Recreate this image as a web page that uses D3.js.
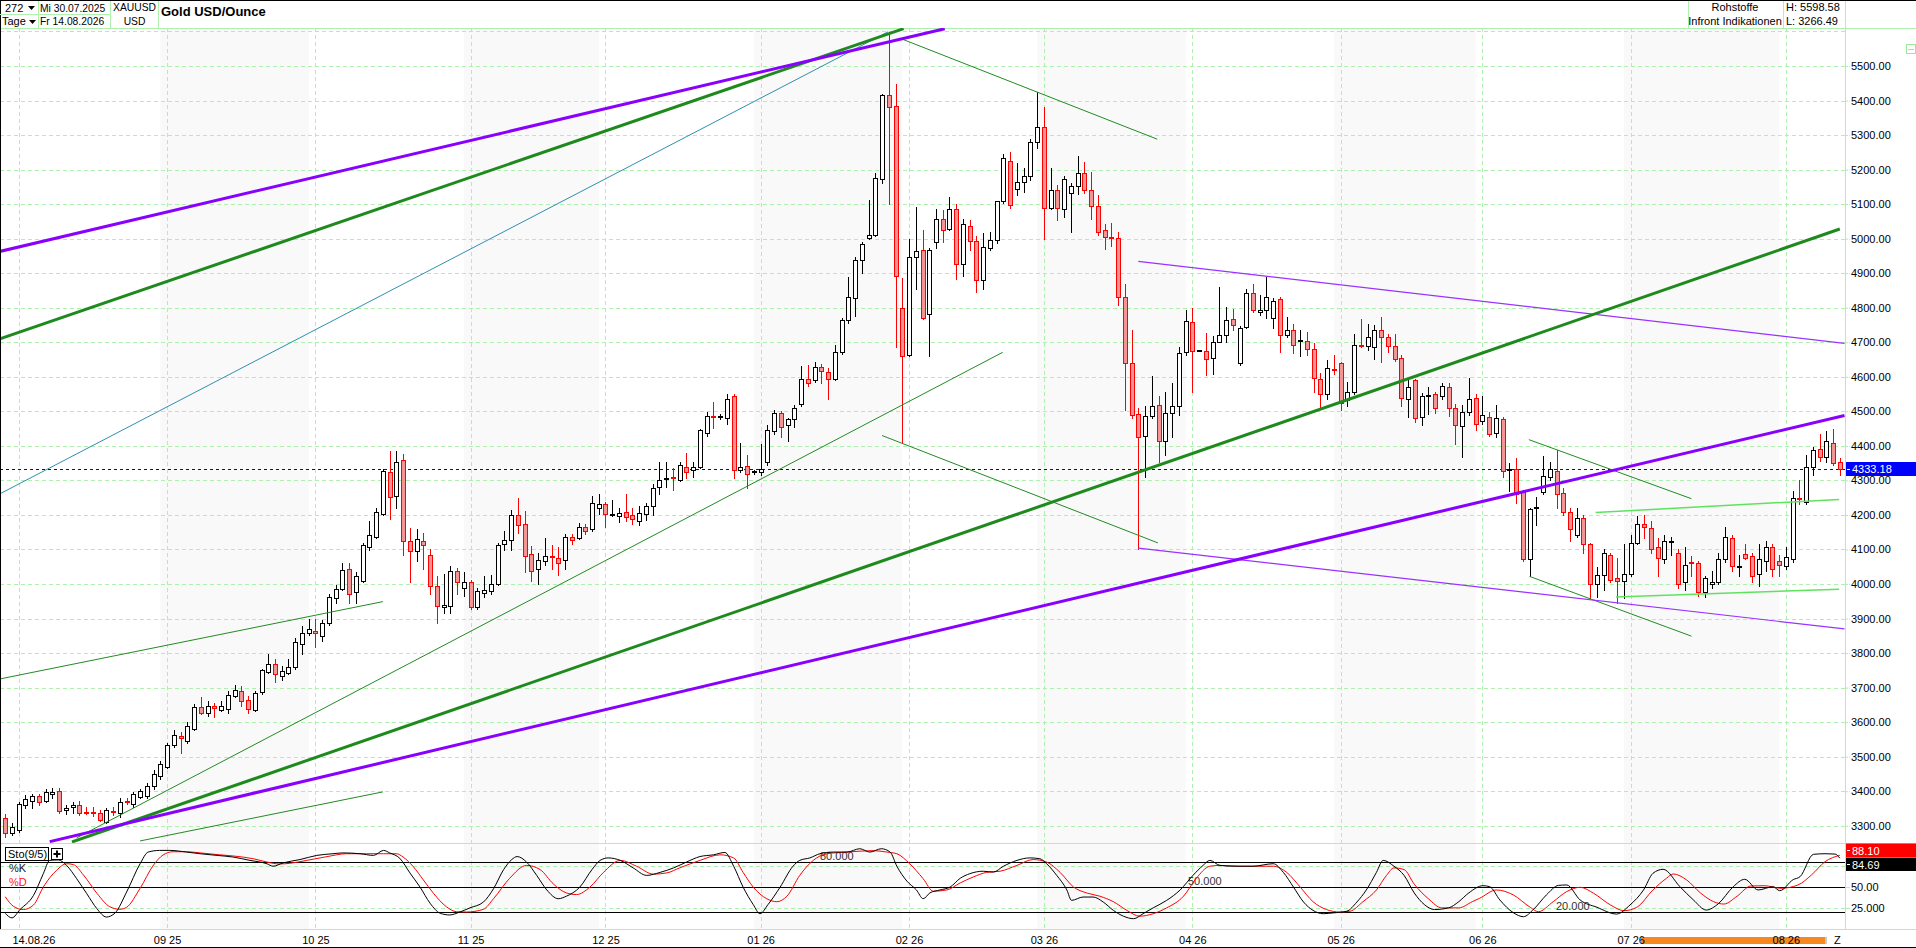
<!DOCTYPE html>
<html>
<head>
<meta charset="utf-8">
<script src="https://cdn.jsdelivr.net/npm/d3@7"></script>
<style>
  body { margin: 0; background: #fff; }
  svg { display: block; }
  text { font-family: "Liberation Sans", Arial, sans-serif; font-size: 11px; fill: #000; }
</style>
</head>
<body>
<svg id="chart"></svg>
<script>
// ---- data (bar index = trading day 0..272) ----
var opens = [3322,3279,3287,3360,3371,3385,3371,3393,3402,3345,3355,3359,3341,3341,3336,3312,3343,3336,3372,3364,
3384,3387,3414,3444,3470,3534,3561,3546,3580,3643,3626,3646,3636,3639,3677,3690,3664,3636,3687,3744,
3767,3735,3743,3759,3826,3857,3864,3848,3886,3959,3985,4044,3976,4010,4107,4137,4204,4324,4255,4358,
4124,4095,4124,4085,3993,3932,3937,4039,3988,4005,3932,3974,3979,4000,4115,4127,4200,4175,4086,4044,
4068,4080,4076,4069,4136,4132,4166,4158,4221,4231,4199,4198,4209,4200,4183,4204,4226,4282,4303,4311,
4302,4340,4331,4340,4438,4486,4484,4481,4543,4331,4341,4324,4324,4353,4443,4494,4460,4477,4520,4595,
4591,4628,4613,4594,4671,4764,4829,4939,5002,5012,5172,5415,5384,4798,4664,4948,4968,4783,4990,5058,
5028,5087,4927,5036,4994,4880,4973,4995,5108,5226,5143,5165,5182,5279,5322,5089,5140,5087,5131,5152,
5189,5140,5096,5024,5004,5001,4832,4639,4492,4430,4486,4518,4413,4494,4515,4671,4758,4676,4676,4654,
4702,4722,4766,4639,4744,4843,4789,4792,4770,4824,4722,4736,4705,4705,4681,4594,4549,4622,4639,4532,
4557,4693,4688,4686,4736,4715,4688,4654,4537,4591,4484,4543,4549,4545,4571,4509,4457,4498,4540,4472,
4484,4438,4477,4331,4333,4268,4073,4219,4265,4311,4328,4263,4209,4141,4192,4115,4000,4027,4085,4017,
4008,4030,4119,4175,4161,4107,4073,4122,4090,4005,4064,4061,3976,4001,4005,4073,4132,4049,4086,4081,
4030,4068,4107,4066,4051,4073,4248,4238,4340,4391,4367,4409,4353];
var highs = [3334,3308,3368,3388,3393,3393,3405,3410,3409,3360,3370,3372,3353,3353,3347,3350,3355,3380,3380,3398,
3405,3425,3461,3487,3541,3578,3572,3600,3652,3674,3660,3656,3660,3691,3708,3704,3677,3691,3754,3796,
3784,3762,3784,3843,3877,3898,3898,3895,3971,3996,4061,4061,4034,4119,4183,4221,4333,4384,4384,4377,
4163,4158,4149,4102,4022,4030,4051,4047,4034,4013,3988,4022,4027,4119,4153,4214,4248,4212,4110,4090,
4132,4112,4107,4146,4146,4178,4175,4255,4260,4238,4243,4221,4260,4221,4226,4234,4289,4353,4353,4336,
4353,4379,4353,4450,4498,4526,4491,4549,4549,4408,4374,4330,4404,4459,4503,4501,4481,4518,4630,4634,
4642,4637,4625,4693,4771,4888,4948,4990,5113,5189,5420,5598.58,5449,4885,4999,5092,5024,4973,5087,5084,
5121,5100,5058,5053,5007,5016,5019,5110,5245,5250,5220,5206,5288,5424,5381,5206,5155,5182,5160,5240,
5223,5193,5126,5041,5046,5019,4868,4736,4509,4515,4603,4543,4557,4583,4685,4792,4800,4679,4727,4719,
4860,4803,4795,4747,4854,4868,4837,4888,4829,4832,4773,4752,4735,4730,4698,4611,4650,4664,4642,4586,
4724,4766,4752,4749,4773,4724,4724,4664,4591,4594,4554,4571,4557,4583,4583,4520,4518,4596,4549,4543,
4498,4518,4484,4350,4365,4273,4221,4251,4370,4353,4387,4277,4221,4221,4200,4119,4049,4102,4090,4076,
4115,4141,4197,4200,4183,4132,4141,4136,4102,4107,4081,4068,4022,4039,4090,4166,4141,4085,4115,4090,
4115,4124,4115,4085,4107,4268,4302,4374,4396,4435,4442,4450,4365];
var lows = [3266,3274,3283,3351,3351,3359,3368,3380,3337,3334,3337,3330,3334,3329,3313,3307,3330,3325,3364,3355,
3379,3381,3407,3436,3466,3527,3512,3541,3577,3623,3619,3614,3631,3626,3674,3648,3626,3631,3682,3742,
3716,3721,3738,3755,3796,3852,3818,3835,3881,3945,3983,3945,3945,4005,4098,4132,4200,4187,4221,4085,
4005,4068,4044,3971,3886,3915,3915,3971,3966,3928,3928,3962,3971,3996,4098,4098,4149,4034,4010,4000,
4056,4044,4027,4044,4115,4129,4146,4154,4204,4166,4197,4180,4183,4175,4170,4185,4200,4260,4282,4273,
4299,4307,4311,4336,4430,4452,4477,4464,4306,4324,4277,4319,4316,4345,4433,4426,4413,4455,4515,4574,
4586,4583,4537,4591,4666,4756,4775,4900,4999,5007,5160,5101,4685,4408,4659,4854,4766,4659,4973,4990,
5024,4883,4892,4968,4846,4854,4968,4987,5104,5090,5126,5135,5169,5262,4999,5085,5053,5063,5019,5130,
5132,5058,5012,4970,4978,4807,4503,4481,4102,4311,4481,4353,4374,4425,4489,4664,4557,4674,4605,4608,
4700,4700,4735,4634,4741,4787,4778,4770,4741,4671,4715,4668,4659,4664,4557,4506,4537,4608,4503,4515,
4549,4685,4679,4651,4642,4673,4646,4515,4484,4469,4459,4493,4494,4537,4486,4404,4367,4489,4447,4464,
4430,4426,4311,4268,4234,4068,4022,4170,4260,4302,4221,4200,4124,4136,4090,3959,3962,3983,4005,3945,
3959,4022,4117,4132,4090,4022,4061,4085,3988,3983,4022,3966,3962,3988,4000,4064,4039,4022,4073,4005,
3993,4039,4022,4022,4044,4064,4232,4232,4316,4357,4353,4345,4316];
var closes = [3278,3296,3363,3376,3385,3368,3398,3398,3342,3350,3359,3337,3337,3336,3316,3347,3340,3370,3368,3393,
3402,3414,3449,3478,3534,3563,3553,3588,3643,3626,3646,3640,3648,3679,3694,3662,3639,3685,3750,3767,
3738,3748,3760,3833,3857,3869,3857,3887,3962,3985,4040,3971,4022,4112,4141,4209,4328,4251,4353,4124,
4095,4129,4112,3993,3937,3940,4039,4005,4005,3932,3980,3983,4000,4112,4127,4200,4170,4081,4039,4069,
4082,4078,4061,4136,4127,4166,4154,4234,4231,4204,4202,4207,4195,4187,4207,4226,4277,4302,4306,4306,
4345,4323,4340,4445,4486,4484,4486,4537,4331,4340,4319,4326,4333,4447,4494,4455,4477,4509,4595,4583,
4628,4617,4594,4673,4764,4832,4939,4985,5012,5177,5415,5381,4892,4659,4948,4965,4770,4968,5058,5024,
5087,4927,5041,4994,4880,4977,4995,5108,5233,5097,5165,5182,5279,5322,5089,5140,5089,5172,5152,5189,
5140,5096,5019,5004,5001,4832,4639,4489,4426,4486,4515,4413,4494,4515,4668,4761,4676,4678,4651,4702,
4722,4764,4749,4741,4843,4792,4792,4832,4820,4722,4736,4693,4707,4681,4596,4549,4625,4620,4523,4557,
4693,4691,4715,4736,4715,4688,4651,4540,4569,4481,4545,4546,4509,4574,4509,4459,4498,4537,4464,4489,
4433,4481,4328,4333,4260,4073,4217,4222,4314,4333,4260,4209,4158,4192,4115,4000,4027,4090,4013,4008,
4030,4119,4175,4165,4102,4076,4124,4124,4000,4056,4061,3976,4017,4005,4073,4136,4051,4051,4076,4022,
4073,4107,4044,4056,4078,4248,4246,4340,4387,4367,4413,4350,4333.18];

// month starts (bar index) and the labels under them
var monthBars = [2,24,46,69,89,112,134,154,176,198,219,241,264];
var monthLabels = ["14.08.26","09 25","10 25","11 25","12 25","01 26","02 26","03 26","04 26","05 26","06 26","07 26","08 26"];
var priceTicks = d3.range(3300, 5501, 100);
var lastPrice = 4333.18;

// Sto(9/5): [bar, value]
var stoK = [[0,18.5],[1,13],[2.2,23],[4.2,40],[5.65,66],[6.6,82],[7.9,82.5],[9.1,76],[10.6,60],[12.1,42],[13.6,24],[15,14],
[16.3,19],[18,44],[20,78],[21.2,92],[22.9,94],[24.4,94],[26.9,92],[28.9,90],[31.4,88],[33.8,86],[36.3,82],[38.8,78],[39.7,75],
[41.2,79],[43.7,83],[46.2,88],[48.6,90],[50.1,91],[52.6,90],[54.6,88],[56.1,94],[57,91],[58.5,84.5],[60,67],[61.5,50],
[63,30.5],[64.5,18.5],[65.9,16.5],[67.4,20],[68.9,25],[70.9,32],[72.4,48],[73.9,71],[75.1,83],[75.9,86.6],[77.3,80],
[78.8,64],[80.3,46.5],[82,36],[83.2,39],[85.2,50],[87,71],[88.2,82],[89.4,85],[91.2,82],[93.1,73],[95.1,64],[97.1,67.6],
[99.1,73],[101,80],[103,86.6],[105,88.7],[106.7,91.5],[108,75],[109.4,50],[110.9,29],[111.9,18],[113.1,29],[114.9,50],
[116.8,75],[117.8,82],[119.3,85],[120.8,90],[122.8,92],[124.8,92],[126.7,96],[128.2,92],[129.9,96],[131.2,92],[132.2,75],
[133.7,57],[135.1,46.5],[136.1,36],[137.1,43],[138.6,46.5],[140.1,50],[141.6,60.6],[143,66],[145,69],[146.5,68],[148,75],
[150,82],[151.9,85],[153.4,84],[154.4,78],[155.9,64],[157.4,46.5],[158.1,34],[159.8,38],[161.3,38],[162.8,32],[164.3,22],
[165.8,15],[167.3,12],[168.7,18],[170.2,25],[172.2,34],[174.2,46.5],[176.1,64],[177.6,76],[178.6,82],[180.1,76],[182.1,75],
[185,75],[188,78],[189.5,67.6],[191,50],[192.5,32],[193.9,22],[195.4,18],[196.9,19],[198.9,21],[200.4,32],[201.8,46.5],
[203.3,67.6],[204.3,82],[205.9,75],[207.4,64],[208.9,43],[210.4,29],[211.9,23],[214,25],[215.5,32.4],[217,43],[219.1,51.6],
[220.1,50.4],[221.6,34.5],[223.6,19.2],[225.1,14.4],[226.6,23.3],[228.5,40.5],[230.3,52],[231.5,52.5],[233.5,34.5],[236,25.7],
[238.9,17.6],[240.9,28.5],[242.9,46.5],[244.3,66.5],[245.8,71.3],[248.3,50.4],[250.3,34.5],[252.2,22.4],[254,30],[256.2,50.4],
[257.9,59.3],[259.9,46.5],[262.1,50.4],[263.1,45.6],[265.1,59],[266.1,62.4],[268.1,89.3],[269.8,90],[271.3,89.6],[272,84.69]];
var stoD = [[0,38.4],[1.2,27],[2.7,23],[4.2,28.5],[5.65,50],[7.6,70],[9.1,78],[10.1,77],[11.6,64.5],[13.6,42.5],[15.5,26.4],
[17,23.3],[18,25.7],[20,48.5],[22,76.5],[23.4,88.5],[24.9,92.4],[26.9,92.4],[28.9,91],[31.4,89],[33.8,87.3],[36.8,84],
[38.8,80],[40.7,77.7],[42.2,78.5],[44.7,82],[47.7,86.5],[50.6,90],[53.6,90],[56.1,90],[58,90],[59,86],[60.5,74.5],[62,58.5],
[63.5,42.5],[65.4,26.4],[66.9,20.4],[68.4,20],[70.9,23.3],[72.4,36],[74.8,60.6],[77.3,76],[79.3,71],[81.3,53.5],[83.2,43],
[84.7,41],[86.7,50],[88.7,67.6],[91.2,82],[93.6,75],[96.1,65.5],[98.1,67],[100,73],[103,82],[106,88.7],[108,85],[109.4,67.6],
[110.9,50],[112.9,36],[114.4,32.4],[115.9,39],[117.8,64],[119.8,82],[121.8,90],[124.8,92],[128.7,93.7],[130.7,92],[132.2,90],
[134.1,78],[136.1,60],[137.6,45],[139.6,46.5],[141.6,55],[143.5,62],[145.5,67.6],[147.5,69],[150,76],[152.4,83],[154.4,80],
[156.4,67.6],[158.4,50],[160.3,43],[162.3,39],[164.3,32.4],[166.3,22],[168.2,15],[170.2,18],[172.2,25],[174.7,39],[176.6,60.6],
[178.6,75],[180.1,76],[183.1,75],[188,75],[190,67.6],[192,50],[193.9,32.4],[195.9,23],[197.9,20],[199.4,21],[201.3,32.4],
[203.3,46.5],[204.8,64],[205.9,73],[207.4,71],[208.9,53.5],[211,36],[213,25],[215.5,25],[217.5,32.4],[218.6,36.5],[221.1,46.5],
[223.6,40.5],[226.1,25.7],[227.3,20.4],[229.5,32.4],[231.5,44.5],[233.5,49.7],[235.5,42.5],[238,28.5],[240,21.6],[241.9,25.7],
[244.3,46.5],[246.3,60.5],[247.3,65.7],[249.3,58.5],[251.3,43.2],[253.3,32.4],[254.8,29.6],[256.8,39.2],[258.8,51.2],
[260.8,51.6],[263.3,48.5],[265.8,52.5],[267.8,64.5],[269.8,80.4],[272,88.1]];
var stoLevels = [80, 50, 20];
var stoLevelLabels = ["80.000", "50.000", "20.000"];

// drawn trendlines: [bar1, price1, bar2, price2]
var thickPurple = [[-0.8,4963,139.3,5608],[6.6,3254,272.7,4488]];
var thickGreen = [[-0.8,4710,133.2,5608],[9.9,3253,272,5028]];
var thinGreen = [[-0.8,3725,56,3949],[20,3256,56,3398],[10.6,3265,147.9,4671],[132.7,5580,170.8,5288],
                 [130,4430,170.9,4119],[225.9,4418,250,4247],[226,4022,250,3849]];
var thinPurple = [[168,4934,272.7,4697],[168,4104,272.7,3870]];
var tealLine = [[-0.8,4261,130.9,5599]];
var lightGreen = [[235.8,4207,271.9,4245],[238.8,3962,271.9,3985]];

// ---- layout ----
var W = 1916, H = 948;
var axisX = 1845, panelTop = 28, mainBottom = 843, indBottom = 929;
var gridCol = "#aef0ae";

var svg = d3.select("#chart").attr("width", W).attr("height", H);

var x = d3.scaleLinear().domain([0, 272]).range([5.2, 1839.8]);
var y = d3.scaleLinear().domain([3250, 5610]).range([mainBottom, panelTop]);
var ys = d3.scaleLinear().domain([0, 100]).range([928.7, 845.4]);

var defs = svg.append("defs");
defs.append("clipPath").attr("id", "clipMain").append("rect")
  .attr("x", 0).attr("y", panelTop).attr("width", axisX).attr("height", mainBottom - panelTop);
defs.append("clipPath").attr("id", "clipInd").append("rect")
  .attr("x", 0).attr("y", mainBottom).attr("width", axisX).attr("height", indBottom - mainBottom);

svg.append("rect").attr("width", W).attr("height", H).attr("fill", "#fff");

// alternate month shading
var shade = [];
for (var k = 1; k < monthBars.length - 1; k += 2) shade.push([monthBars[k] - 1, monthBars[k + 1] - 1]);
svg.append("g").selectAll("rect").data(shade).join("rect")
  .attr("x", d => x(d[0])).attr("width", d => x(d[1]) - x(d[0]))
  .attr("y", panelTop).attr("height", indBottom - panelTop)
  .attr("fill", "#f9f9f9");

// grid
var grid = svg.append("g").attr("stroke", gridCol).attr("stroke-dasharray", "4,3");
grid.selectAll("line.h").data(d3.range(3300, 5601, 100)).join("line").attr("class", "h")
  .attr("x1", 0).attr("x2", axisX)
  .attr("y1", d => Math.round(y(d)) + 0.5).attr("y2", d => Math.round(y(d)) + 0.5);
grid.selectAll("line.v").data(monthBars).join("line").attr("class", "v")
  .attr("x1", d => Math.round(x(d)) + 0.5).attr("x2", d => Math.round(x(d)) + 0.5)
  .attr("y1", panelTop).attr("y2", indBottom);
grid.selectAll("line.s").data([25, 75]).join("line").attr("class", "s")
  .attr("x1", 0).attr("x2", axisX)
  .attr("y1", d => Math.round(ys(d)) + 0.5).attr("y2", d => Math.round(ys(d)) + 0.5);

// panel borders
var borders = svg.append("g").attr("stroke", gridCol).attr("stroke-width", 1);
[panelTop, mainBottom, indBottom].forEach(function (v) {
  borders.append("line").attr("x1", 0).attr("x2", W).attr("y1", v + 0.5).attr("y2", v + 0.5);
});
borders.append("line").attr("x1", axisX + 0.5).attr("x2", axisX + 0.5).attr("y1", 0).attr("y2", indBottom);

// ---- main panel ----
var main = svg.append("g").attr("clip-path", "url(#clipMain)");

main.append("line")
  .attr("x1", 0).attr("x2", axisX)
  .attr("y1", Math.round(y(lastPrice)) + 0.5).attr("y2", Math.round(y(lastPrice)) + 0.5)
  .attr("stroke", "#0000c8").attr("stroke-dasharray", "3,3");

var bars = opens.map(function (o, i) { return { i: i, o: o, h: highs[i], l: lows[i], c: closes[i] }; });
var cand = main.append("g").selectAll("g").data(bars).join("g");
cand.append("line")
  .attr("x1", d => Math.round(x(d.i)) + 0.5).attr("x2", d => Math.round(x(d.i)) + 0.5)
  .attr("y1", d => Math.round(y(d.h))).attr("y2", d => Math.round(y(d.l)) + 1)
  .attr("stroke", d => d.c >= d.o ? "#000" : "#ff0000");
cand.append("rect")
  .attr("x", d => Math.round(x(d.i)) - 1.5).attr("width", 4)
  .attr("y", d => Math.round(y(Math.max(d.o, d.c))) + 0.5)
  .attr("height", d => Math.max(1, Math.round(y(Math.min(d.o, d.c))) - Math.round(y(Math.max(d.o, d.c)))))
  .attr("fill", d => d.c >= d.o ? "#fff" : "#f49494")
  .attr("stroke", d => d.c >= d.o ? "#000" : "#ff0000");

function drawSegs(data, color, width) {
  main.append("g").selectAll("line").data(data).join("line")
    .attr("x1", d => x(d[0])).attr("y1", d => y(d[1]))
    .attr("x2", d => x(d[2])).attr("y2", d => y(d[3]))
    .attr("stroke", color).attr("stroke-width", width);
}
drawSegs(tealLine, "#2f8fae", 1);
drawSegs(thinGreen, "#228b22", 1);
drawSegs(thinPurple, "#9932ff", 1.2);
drawSegs(lightGreen, "#5fe35f", 1.5);
drawSegs(thickGreen, "#1e8a1e", 3);
drawSegs(thickPurple, "#8a00ff", 3);

// ---- price axis ----
var pAxis = svg.append("g").attr("transform", "translate(" + axisX + ",0)")
  .call(d3.axisRight(y).tickValues(priceTicks).tickFormat(d3.format(".2f")).tickSize(5).tickPadding(1));
pAxis.select(".domain").remove();
pAxis.selectAll(".tick line").attr("stroke", gridCol).attr("stroke-dasharray", "3,1");

// last price box
var lp = svg.append("g").attr("transform", "translate(" + (axisX + 1) + "," + Math.round(y(lastPrice)) + ")");
lp.append("rect").attr("x", 0).attr("y", -7).attr("width", W - axisX).attr("height", 14).attr("fill", "#0000ff");
lp.append("line").attr("x1", 1).attr("x2", 4).attr("y1", 0.5).attr("y2", 0.5).attr("stroke", "#fff");
lp.append("text").attr("x", 6).attr("y", 4).style("fill", "#fff").text("4333.18");

svg.append("rect").attr("x", 1906.5).attr("y", 44.5).attr("width", 9).attr("height", 9)
  .attr("fill", "none").attr("stroke", "#9be89b");
svg.append("line").attr("x1", 1908).attr("x2", 1914).attr("y1", 49.5).attr("y2", 49.5).attr("stroke", "#9be89b");

// ---- stochastic panel ----
var ind = svg.append("g").attr("clip-path", "url(#clipInd)");
ind.selectAll("line.lvl").data(stoLevels).join("line").attr("class", "lvl")
  .attr("x1", 0).attr("x2", axisX)
  .attr("y1", d => Math.round(ys(d)) + 0.5).attr("y2", d => Math.round(ys(d)) + 0.5)
  .attr("stroke", "#000");
ind.selectAll("text.lvl").data(stoLevels).join("text").attr("class", "lvl")
  .attr("x", (d, i) => 820 + i * 368).attr("y", d => Math.round(ys(d)) - 2)
  .style("fill", "#333").text((d, i) => stoLevelLabels[i]);

var sline = d3.line().x(d => x(d[0])).y(d => ys(d[1])).curve(d3.curveMonotoneX);
ind.append("path").datum(stoD).attr("d", sline).attr("fill", "none").attr("stroke", "#ff0000").attr("stroke-width", 1);
ind.append("path").datum(stoK).attr("d", sline).attr("fill", "none").attr("stroke", "#000").attr("stroke-width", 1);

var sAxis = svg.append("g").attr("transform", "translate(" + axisX + ",0)")
  .call(d3.axisRight(ys).tickValues([25, 50]).tickFormat(d => d === 50 ? "50.00" : "25.000").tickSize(5).tickPadding(1));
sAxis.select(".domain").remove();
sAxis.selectAll(".tick line").attr("stroke", gridCol);

var lastK = stoK[stoK.length - 1][1], lastD = stoD[stoD.length - 1][1];
[[lastD, "#ff0000", 843.5], [lastK, "#000", 857.5]].forEach(function (b) {
  var g = svg.append("g").attr("transform", "translate(" + (axisX + 1) + "," + b[2] + ")");
  g.append("rect").attr("width", W - axisX).attr("height", 13.5).attr("fill", b[1]);
  g.append("line").attr("x1", 1).attr("x2", 4).attr("y1", 7).attr("y2", 7).attr("stroke", "#fff");
  g.append("text").attr("x", 6).attr("y", 11).style("fill", "#fff").text(b[0].toFixed(2));
});

var lg = svg.append("g");
lg.append("rect").attr("x", 5.5).attr("y", 847.5).attr("width", 43).attr("height", 13).attr("fill", "#fff").attr("stroke", "#000");
lg.append("text").attr("x", 8).attr("y", 858).text("Sto(9/5)");
lg.append("rect").attr("x", 51.5).attr("y", 848.5).attr("width", 11).attr("height", 11).attr("fill", "#fff").attr("stroke", "#000");
lg.append("path").attr("d", "M53.5,854H60.5M57,850.5V857.5").attr("stroke", "#000").attr("stroke-width", 2);
lg.append("text").attr("x", 9).attr("y", 872).style("fill", "#222").text("%K");
lg.append("text").attr("x", 9).attr("y", 886).style("fill", "#ff2020").text("%D");

// ---- date axis ----
svg.append("rect").attr("x", 1641).attr("y", 937).attr("width", 184).attr("height", 7).attr("fill", "#f5891f");
svg.append("rect").attr("x", 1825).attr("y", 937).attr("width", 2).attr("height", 7).attr("fill", "#c8c8c8");
svg.append("text").attr("x", 1834).attr("y", 944).text("Z");

var xAxis = svg.append("g").attr("transform", "translate(0,936)")
  .call(d3.axisBottom(x).tickValues(monthBars).tickFormat((d, i) => monthLabels[i]).tickSize(0).tickPadding(0));
xAxis.select(".domain").remove();
xAxis.select(".tick text").attr("text-anchor", "start").attr("x", 12 - x(monthBars[0]));

svg.append("line").attr("x1", 0).attr("x2", W).attr("y1", 947.5).attr("y2", 947.5).attr("stroke", "#000");

// ---- header ----
var hd = svg.append("g");
hd.append("line").attr("x1", 0).attr("x2", W).attr("y1", 0.5).attr("y2", 0.5).attr("stroke", "#000");
hd.append("line").attr("x1", 0.5).attr("x2", 0.5).attr("y1", 0).attr("y2", indBottom).attr("stroke", "#000");
var hb = hd.append("g").attr("stroke", gridCol);
[38, 110, 158, 1688, 1783].forEach(function (v) {
  hb.append("line").attr("x1", v + 0.5).attr("x2", v + 0.5).attr("y1", 1).attr("y2", panelTop);
});
hb.append("line").attr("x1", 0).attr("x2", 110).attr("y1", 14.5).attr("y2", 14.5);
hd.append("text").attr("x", 5).attr("y", 12).text("272");
hd.append("path").attr("d", "M28,6H35L31.5,10Z").attr("fill", "#000");
hd.append("text").attr("x", 2).attr("y", 25).text("Tage");
hd.append("path").attr("d", "M29,20H36L32.5,24Z").attr("fill", "#000");
hd.append("text").attr("x", 40).attr("y", 12).style("font-size", "10.3px").text("Mi 30.07.2025");
hd.append("text").attr("x", 40).attr("y", 25).style("font-size", "10.3px").text("Fr 14.08.2026");
hd.append("text").attr("x", 134.5).attr("y", 11).attr("text-anchor", "middle").style("font-size", "10.3px").text("XAUUSD");
hd.append("text").attr("x", 134.5).attr("y", 25).attr("text-anchor", "middle").style("font-size", "10.3px").text("USD");
hd.append("text").attr("x", 161).attr("y", 16).style("font-size", "13px").style("font-weight", "bold").text("Gold USD/Ounce");
hd.append("text").attr("x", 1735).attr("y", 11).attr("text-anchor", "middle").text("Rohstoffe");
hd.append("text").attr("x", 1735).attr("y", 25).attr("text-anchor", "middle").text("Infront Indikationen");
hd.append("text").attr("x", 1786).attr("y", 11).text("H: 5598.58");
hd.append("text").attr("x", 1786).attr("y", 25).text("L: 3266.49");
</script>
</body>
</html>
